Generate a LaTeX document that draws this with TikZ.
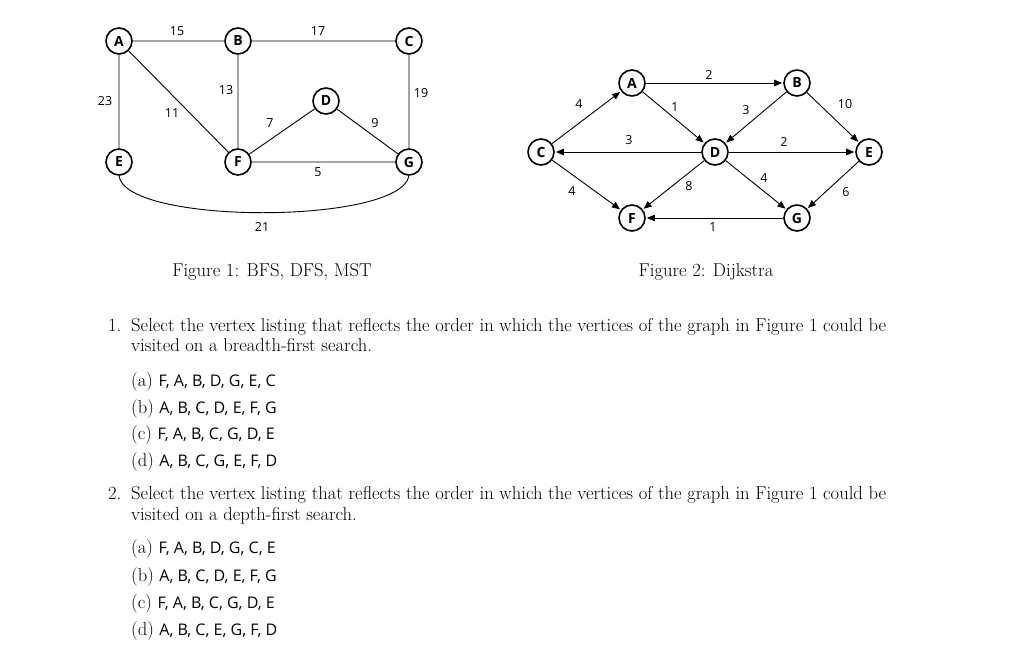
\documentclass[tikz,border=0pt]{standalone}
\usepackage{fontspec}
\newfontfamily\gs{Open Sans}
\usetikzlibrary{arrows.meta}
\begin{document}
\begin{tikzpicture}[x=1pt,y=-1pt,
 v/.style={circle,draw,line width=1.6pt,minimum size=26pt,inner sep=0pt,font=\gs\bfseries\fontsize{14}{14}\selectfont},
 w/.style={font=\gs\fontsize{12.5}{12.5}\selectfont,inner sep=1pt},
 e/.style={line width=0.9pt},
 a/.style={line width=0.9pt,-{Triangle[length=8pt,width=6.5pt]},shorten >=1pt},
 t/.style={font=\fontsize{18.6}{18.6}\selectfont,anchor=base west,inner sep=0pt},
 o/.style={font=\fontsize{18.6}{18.6}\selectfont,anchor=base west,inner sep=0pt},
 s/.style={font=\gs\fontsize{17}{17}\selectfont}]
\useasboundingbox (0,0) rectangle (1024,645);
% Figure 1
\node[v] (A) at (119,41) {A};
\node[v] (B) at (238,41) {B};
\node[v] (C) at (409,41) {C};
\node[v] (D) at (326,101) {D};
\node[v] (E) at (119,162) {E};
\node[v] (F) at (238,162) {F};
\node[v] (G) at (409,162) {G};
\draw[e] (A)--(B) (B)--(C) (A)--(E) (A)--(F) (B)--(F) (C)--(G) (F)--(D) (D)--(G) (F)--(G);
\draw[e] (E.south) .. controls (125,225) and (400,225) .. (G.south);
\node[w] at (177,31) {15};
\node[w] at (318,31) {17};
\node[w] at (105,101) {23};
\node[w] at (172,113) {11};
\node[w] at (226,90) {13};
\node[w] at (421,93) {19};
\node[w] at (270,123) {7};
\node[w] at (375,123) {9};
\node[w] at (318,172) {5};
\node[w] at (262,227) {21};
% Figure 2
\node[v] (A2) at (632,83) {A};
\node[v] (B2) at (797,83) {B};
\node[v] (C2) at (541,152) {C};
\node[v] (D2) at (715,152) {D};
\node[v] (E2) at (869,152) {E};
\node[v] (F2) at (632,218) {F};
\node[v] (G2) at (797,218) {G};
\draw[a] (A2)--(B2);
\draw[a] (C2)--(A2);
\draw[a] (A2)--(D2);
\draw[a] (B2)--(D2);
\draw[a] (B2)--(E2);
\draw[a] (D2)--(C2);
\draw[a] (D2)--(E2);
\draw[a] (C2)--(F2);
\draw[a] (D2)--(F2);
\draw[a] (D2)--(G2);
\draw[a] (E2)--(G2);
\draw[a] (G2)--(F2);
\node[w] at (709,75) {2};
\node[w] at (579,104) {4};
\node[w] at (675,107) {1};
\node[w] at (746,110) {3};
\node[w] at (845,104) {10};
\node[w] at (629,140) {3};
\node[w] at (784,142) {2};
\node[w] at (572,191) {4};
\node[w] at (689,186) {8};
\node[w] at (764,178) {4};
\node[w] at (846,192) {6};
\node[w] at (713,227) {1};
% captions
\node[font=\fontsize{18.6}{18.6}\selectfont] (c1) at (272,272) {Figure 1: BFS, DFS, MST};
\node[font=\fontsize{18.6}{18.6}\selectfont] (c2) at (706,272) {Figure 2: Dijkstra};
% questions
\node[t] (q1n) at (108,331) {1.};
\node[t] (q1a) at (131,331) {Select the vertex listing that reflects the order in which the vertices of the graph in Figure 1 could be};
\node[t] (q1b) at (131,351) {visited on a breadth-first search.};
\node[o] (q1o1) at (131,386) {(a) {\gs\fontsize{16}{16}\selectfont F, A, B, D, G, E, C}};
\node[o] (q1o2) at (131,413) {(b) {\gs\fontsize{16}{16}\selectfont A, B, C, D, E, F, G}};
\node[o] (q1o3) at (131,439) {(c) {\gs\fontsize{16}{16}\selectfont F, A, B, C, G, D, E}};
\node[o] (q1o4) at (131,466) {(d) {\gs\fontsize{16}{16}\selectfont A, B, C, G, E, F, D}};
\node[t] (q2n) at (108,499) {2.};
\node[t] (q2a) at (131,499) {Select the vertex listing that reflects the order in which the vertices of the graph in Figure 1 could be};
\node[t] (q2b) at (131,520) {visited on a depth-first search.};
\node[o] (q2o1) at (131,553) {(a) {\gs\fontsize{16}{16}\selectfont F, A, B, D, G, C, E}};
\node[o] (q2o2) at (131,581) {(b) {\gs\fontsize{16}{16}\selectfont A, B, C, D, E, F, G}};
\node[o] (q2o3) at (131,608) {(c) {\gs\fontsize{16}{16}\selectfont F, A, B, C, G, D, E}};
\node[o] (q2o4) at (131,635) {(d) {\gs\fontsize{16}{16}\selectfont A, B, C, E, G, F, D}};
\end{tikzpicture}
\end{document}
